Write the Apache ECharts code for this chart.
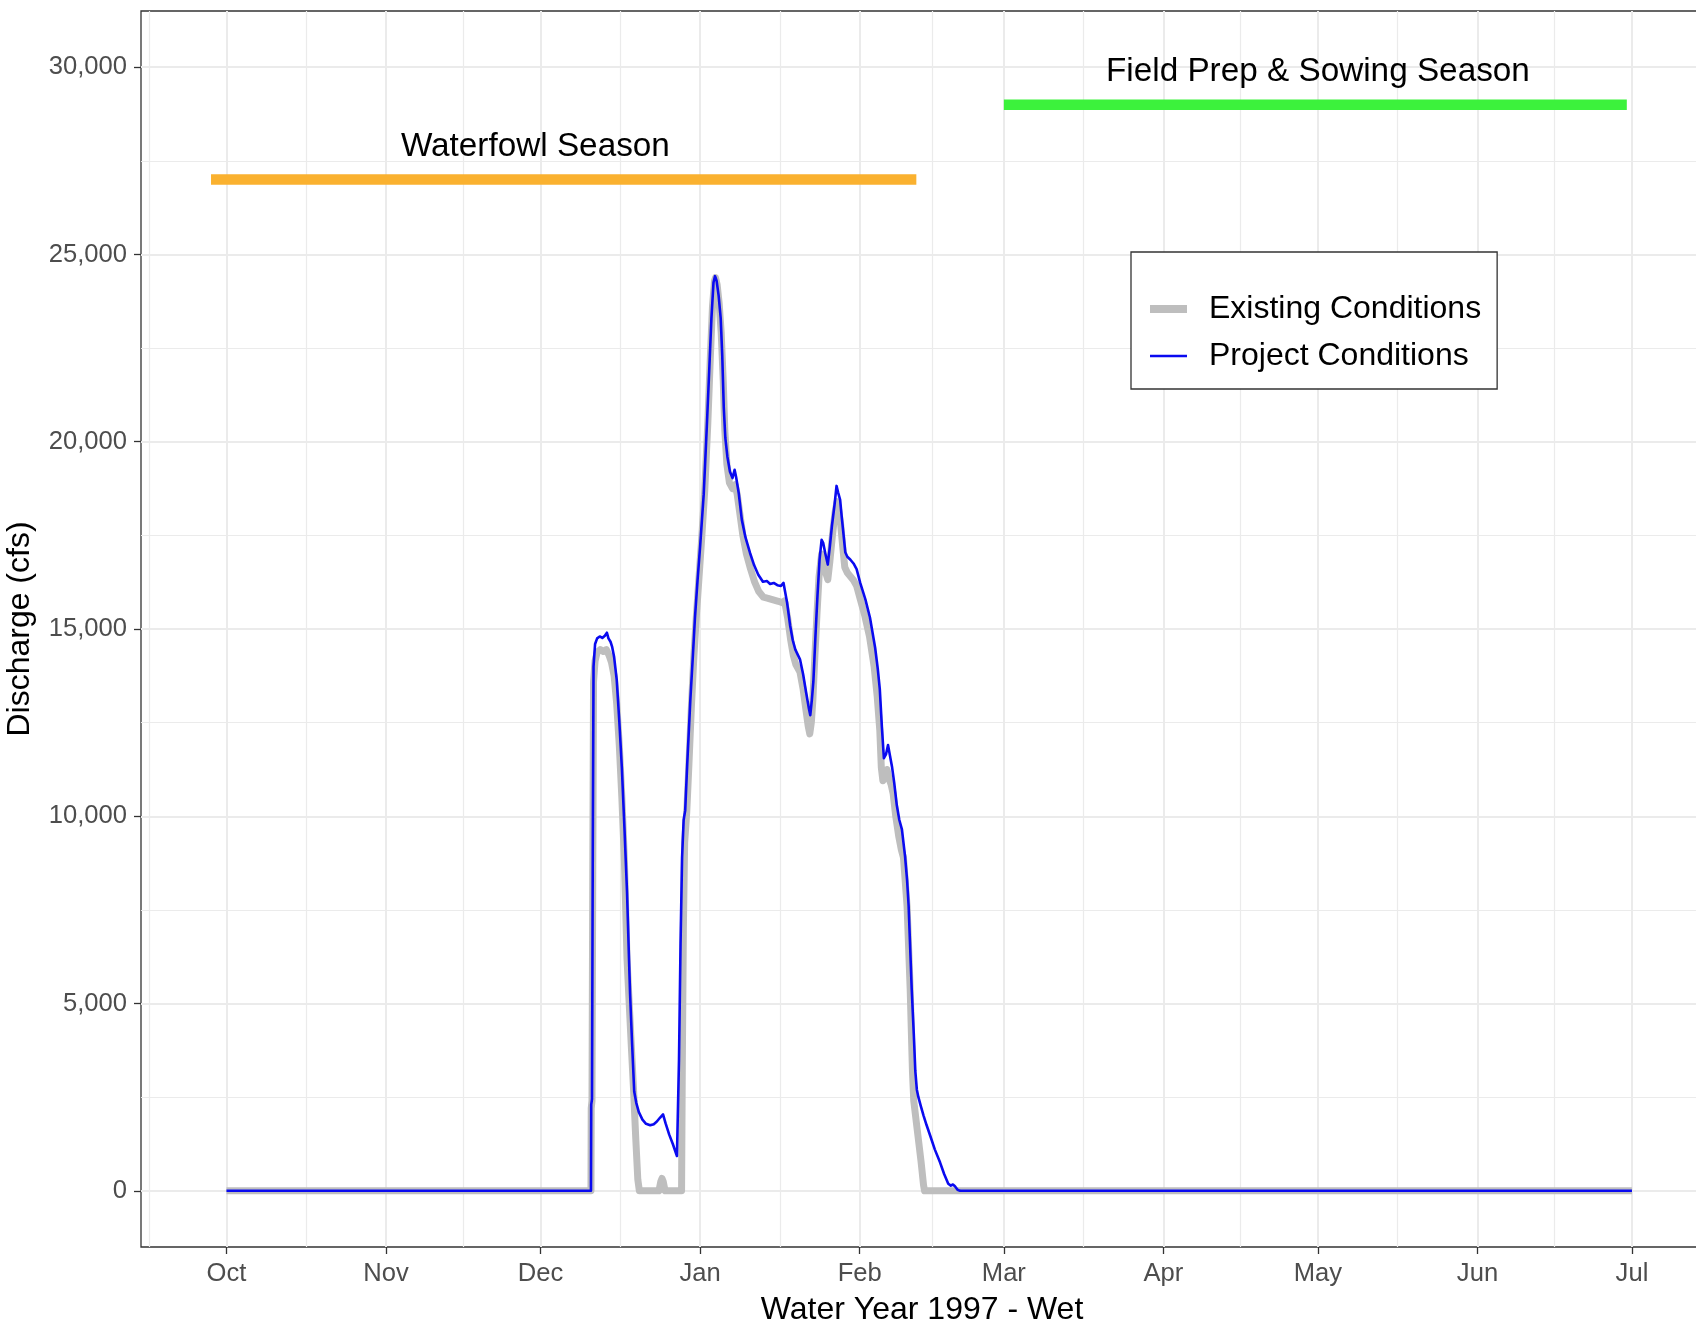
<!DOCTYPE html>
<html>
<head>
<meta charset="utf-8">
<script src="https://cdn.jsdelivr.net/npm/echarts@6/dist/echarts.min.js"></script>
<style>
  html, body { margin: 0; padding: 0; background: #ffffff; }
  #chart { width: 1696px; height: 1324px; }
</style>
</head>
<body>
<div id="chart"></div>
<script>
// Day offsets are counted from 1 Oct 1996, the first day of water year 1997.
const monthStarts = [0, 31, 61, 92, 123, 151, 182, 212, 243, 273];
const monthLabels = ['Oct', 'Nov', 'Dec', 'Jan', 'Feb', 'Mar', 'Apr', 'May', 'Jun', 'Jul'];
const monthBefore = -30;   // 1 Sep 1996
const monthAfter = 304;    // 1 Aug 1997
const yTicks = [0, 5000, 10000, 15000, 20000, 25000, 30000];

// Existing conditions discharge (cfs)
const existingDays = [0, 70.8, 70.85, 71.0, 71.15, 71.3, 71.6, 72.0, 72.6, 73.2, 73.8, 74.3, 74.8, 75.3, 75.8, 76.3, 76.8, 77.3, 77.8, 78.3, 78.7, 79.1, 79.5, 79.9, 80.2,
  84.0, 84.35, 84.6, 84.85, 85.2, 88.4, 88.55, 88.75, 89.0, 89.4, 89.8, 90.3, 90.8, 91.3, 91.8, 92.3, 92.9, 93.5, 94.0, 94.4, 94.8, 95.0, 95.3, 95.7, 96.1, 96.5, 96.8,
  97.2, 97.7, 98.3, 98.8, 99.2, 99.7, 100.3, 101.0, 101.8, 102.6, 103.4, 104.3, 105.2, 106.2, 107.2, 108.0, 108.4, 109.0, 109.6, 110.1, 110.6, 111.4, 112.0, 112.6,
  113.0, 113.3, 113.6, 113.9, 114.3, 114.7, 115.1, 115.6, 116.0, 116.4, 116.8, 117.2, 117.7, 118.2, 118.6, 118.9, 119.3, 119.7, 120.1, 120.6, 121.2, 121.8, 122.4,
  123.1, 124.0, 124.9, 125.8, 126.4, 126.9, 127.2, 127.5, 127.9, 128.3, 128.7, 129.1, 129.5, 130.0, 130.6, 131.1, 131.5, 132.2, 132.8, 133.25, 133.5, 134.2, 134.9,
  135.4, 135.6, 273];
const existingFlow = [0, 0, 2200, 2400, 8500, 13600, 14150, 14380, 14450, 14400, 14450, 14300, 14100, 13750, 13000, 11900, 10500, 8800, 6200, 4800, 3700, 2630, 1400, 300, 0,
  0, 240, 330, 240, 0, 0, 3500, 7000, 9300, 10100, 11300, 12900, 14300, 15400, 16400, 17400, 18700, 20500, 22300, 23600, 24300, 24380, 24200, 23700, 22900, 21600, 20300,
  19400, 18900, 18750, 18850, 18600, 18100, 17500, 17000, 16600, 16250, 16000, 15850, 15820, 15780, 15740, 15700, 15750, 15300, 14700, 14300, 14050, 13850, 13400, 12800,
  12400, 12200, 12500, 13100, 14300, 15400, 16400, 17000, 16900, 16500, 16320, 16800, 17500, 18100, 18400, 18200, 17800, 17200, 16650, 16500, 16400, 16300, 16150,
  15800, 15350, 14800, 14000, 13200, 12300, 11300, 10950, 11050, 11250, 11000, 10850, 10600, 10000, 9450, 9100, 8900, 7600, 5400, 3170, 2400, 1600, 800,
  150, 0, 0];

// Project conditions discharge (cfs)
const projectDays = [0, 70.8, 70.85, 71.0, 71.15, 71.3, 71.6, 72.0, 72.5, 73.0, 73.5, 73.9, 74.2, 74.6, 74.9, 75.3, 75.8, 76.3, 76.8, 77.3, 77.8, 78.1, 78.4, 78.8, 79.2,
  79.6, 80.1, 80.8, 81.5, 82.3, 83.0, 83.6, 84.2, 84.8, 85.3, 86.0, 86.7, 87.5, 87.9, 88.2, 88.5, 88.8, 89.1, 89.5, 90.1, 90.6, 91.0, 91.5, 92.0, 92.7, 93.3, 93.8,
  94.2, 94.6, 94.9, 95.2, 95.6, 96.0, 96.3, 96.6, 96.9, 97.3, 97.8, 98.3, 98.7, 99.0, 99.5, 100.1, 100.8, 101.7, 102.5, 103.3, 104.2, 105.0, 105.6, 106.3, 107.0,
  107.7, 108.2, 108.9, 109.5, 110.0, 110.5, 111.4, 112.0, 112.6, 113.1, 113.4, 113.7, 114.0, 114.4, 114.8, 115.2, 115.6, 115.9, 116.3, 116.8, 117.2, 117.6, 118.1,
  118.5, 118.8, 119.2, 119.5, 119.8, 120.2, 120.6, 121.2, 121.8, 122.4, 123.1, 124.1, 125.0, 126.0, 126.5, 126.9, 127.3, 127.7, 128.1, 128.5, 128.9, 129.3, 129.7,
  130.2, 130.7, 131.2, 131.8, 132.2, 132.5, 132.8, 133.1, 133.5, 133.8, 134.1, 134.4, 134.9, 135.4, 136.0, 136.7, 137.6, 138.6, 139.4, 140.2, 140.7, 141.1, 141.5,
  142.0, 142.5, 273];
const projectFlow = [0, 0, 2300, 2450, 9000, 14000, 14600, 14750, 14800, 14760, 14820, 14900, 14750, 14660, 14530, 14250, 13650, 12550, 11300, 9700, 8000, 6600, 5250, 3900, 2650,
  2350, 2100, 1900, 1790, 1750, 1780, 1850, 1950, 2040, 1800, 1500, 1250, 930, 3500, 6600, 8900, 9900, 10150, 11400, 13100, 14300, 15300, 16300, 17200, 18600, 20400, 22000,
  23300, 24250, 24420, 24300, 23900, 23300, 22300, 20900, 20100, 19600, 19200, 19030, 19250, 19050, 18630, 17920, 17450, 17030, 16700, 16450, 16260, 16280, 16200, 16230, 16170,
  16150, 16230, 15700, 15080, 14700, 14450, 14190, 13800, 13300, 12900, 12700, 13100, 13600, 14800, 15900, 16850, 17380, 17300, 17030, 16720, 17200, 17750, 18300,
  18820, 18650, 18450, 18000, 17600, 17050, 16930, 16850, 16750, 16600, 16230, 15790, 15300, 14500, 13950, 13400, 12400, 11550, 11650, 11900, 11600, 11300, 10900,
  10300, 9900, 9650, 8940, 8300, 7610, 6500, 5390, 4200, 3200, 2700, 2500, 2250, 2010, 1750, 1470, 1100, 760, 450, 190, 140, 170, 120,
  30, 0, 0];

// Seasonal windows drawn above the hydrograph
const seasonNames = ['Waterfowl Season', 'Field Prep & Sowing Season'];
const seasonStart = [-3, 151];
const seasonEnd = [134, 272];
const seasonLevel = [27000, 29000];
const seasonLabelDay = [60, 212];
const seasonLabelLevel = [28000, 30000];
const seasonColors = ['#FAB12F', '#3CF23C'];

const FONT = "'Liberation Sans', Arial, Helvetica, sans-serif";
const GRID_COLOR = '#EBEBEB';

function pairs(xs, ys) { return xs.map((x, i) => [x, ys[i]]); }
function withCommas(v) { return String(v).replace(/\B(?=(\d{3})+(?!\d))/g, ','); }

// Major grid at month starts / every 5,000 cfs; minor grid halfway between.
const monthBounds = [monthBefore].concat(monthStarts, [monthAfter]);
const minorX = [];
for (let i = 0; i < monthBounds.length - 1; i++) minorX.push((monthBounds[i] + monthBounds[i + 1]) / 2);
const minorY = [];
for (let i = 0; i < yTicks.length - 1; i++) minorY.push((yTicks[i] + yTicks[i + 1]) / 2);

const gridLines = []
  .concat(minorX.map(v => ({ xAxis: v, lineStyle: { color: GRID_COLOR, width: 1.2, type: 'solid' } })))
  .concat(minorY.map(v => ({ yAxis: v, lineStyle: { color: GRID_COLOR, width: 1.2, type: 'solid' } })))
  .concat(monthStarts.map(v => ({ xAxis: v, lineStyle: { color: GRID_COLOR, width: 2, type: 'solid' } })))
  .concat(yTicks.map(v => ({ yAxis: v, lineStyle: { color: GRID_COLOR, width: 2, type: 'solid' } })));

const seasonSeries = seasonNames.map((name, i) => ({
  name: name,
  type: 'line',
  data: [[seasonStart[i], seasonLevel[i]], [seasonEnd[i], seasonLevel[i]]],
  symbol: 'none',
  silent: true,
  z: 2,
  lineStyle: { color: seasonColors[i], width: 10.5, cap: 'butt' },
  emphasis: { disabled: true }
}));

const chart = echarts.init(document.getElementById('chart'), null, { renderer: 'canvas' });

chart.setOption({
  animation: false,
  backgroundColor: '#ffffff',
  textStyle: { fontFamily: FONT },
  grid: {
    left: 141, top: 11, width: 1562, height: 1236,
    show: true, borderColor: '#333333', borderWidth: 1.3,
    backgroundColor: 'transparent',
    containLabel: false, outerBoundsMode: 'none'
  },
  legend: {
    orient: 'vertical',
    left: 1131, top: 252,
    padding: [39, 16, 15, 19],
    itemWidth: 37, itemHeight: 36, itemGap: 11,
    backgroundColor: '#ffffff',
    borderColor: '#333333', borderWidth: 1.3, borderRadius: 0,
    selectedMode: false,
    formatter: name => '{gap| }' + name,
    textStyle: {
      fontFamily: FONT, fontSize: 32, lineHeight: 36, color: '#000000',
      rich: { gap: { width: 17, fontSize: 32, lineHeight: 36 } }
    },
    data: [
      { name: 'Existing Conditions', icon: 'path://M0,0H37V8H0Z', itemStyle: { color: '#BEBEBE', borderWidth: 0 } },
      { name: 'Project Conditions', icon: 'path://M0,0H37V2.6H0Z', itemStyle: { color: '#0A0AF0', borderWidth: 0 } }
    ]
  },
  xAxis: {
    type: 'value',
    min: -16.6, max: 286.8,
    name: 'Water Year 1997 - Wet',
    nameLocation: 'middle', nameGap: 40,
    nameTextStyle: { fontFamily: FONT, fontSize: 32, lineHeight: 36, color: '#000000' },
    axisLine: { show: false, onZero: false },
    splitLine: { show: false },
    axisTick: { show: true, customValues: monthStarts, length: 7, lineStyle: { color: '#333333', width: 1.3 } },
    axisLabel: {
      customValues: monthStarts, margin: 14,
      fontFamily: FONT, fontSize: 25.6, lineHeight: 26, color: '#4D4D4D',
      formatter: v => monthLabels[monthStarts.indexOf(Math.round(v))] || ''
    }
  },
  yAxis: {
    type: 'value',
    min: -1500, max: 31500,
    name: 'Discharge (cfs)',
    nameLocation: 'middle', nameGap: 89, nameRotate: 90,
    nameTextStyle: { fontFamily: FONT, fontSize: 32, lineHeight: 36, color: '#000000' },
    axisLine: { show: false, onZero: false },
    splitLine: { show: false },
    axisTick: { show: true, customValues: yTicks, length: 7, lineStyle: { color: '#333333', width: 1.3 } },
    axisLabel: {
      customValues: yTicks, margin: 14,
      fontFamily: FONT, fontSize: 25.6, color: '#4D4D4D',
      formatter: v => withCommas(v)
    }
  },
  series: [
    {
      name: 'Existing Conditions',
      type: 'line',
      data: pairs(existingDays, existingFlow),
      symbol: 'none',
      color: '#BEBEBE',
      z: 3,
      lineStyle: { color: '#BEBEBE', width: 7, cap: 'butt', join: 'round' },
      emphasis: { disabled: true },
      markLine: {
        silent: true, z: 1, symbol: ['none', 'none'],
        label: { show: false }, emphasis: { disabled: true },
        animation: false,
        data: gridLines
      }
    },
    {
      name: 'Project Conditions',
      type: 'line',
      data: pairs(projectDays, projectFlow),
      symbol: 'none',
      color: '#0A0AF0',
      z: 4,
      lineStyle: { color: '#0A0AF0', width: 2.6, cap: 'butt', join: 'round' },
      emphasis: { disabled: true }
    }
  ].concat(seasonSeries, [{
    name: 'season labels',
    type: 'scatter',
    symbolSize: 0,
    itemStyle: { color: '#000000', opacity: 1 },
    silent: true,
    z: 5,
    data: seasonNames.map((n, i) => ({ name: n, value: [seasonLabelDay[i], seasonLabelLevel[i]] })),
    label: {
      show: true, position: 'inside', offset: [0, 5], formatter: '{b}',
      fontFamily: FONT, fontSize: 33.3, color: '#000000', opacity: 1,
      textBorderWidth: 0
    },
    emphasis: { disabled: true }
  }])
});
</script>
</body>
</html>
